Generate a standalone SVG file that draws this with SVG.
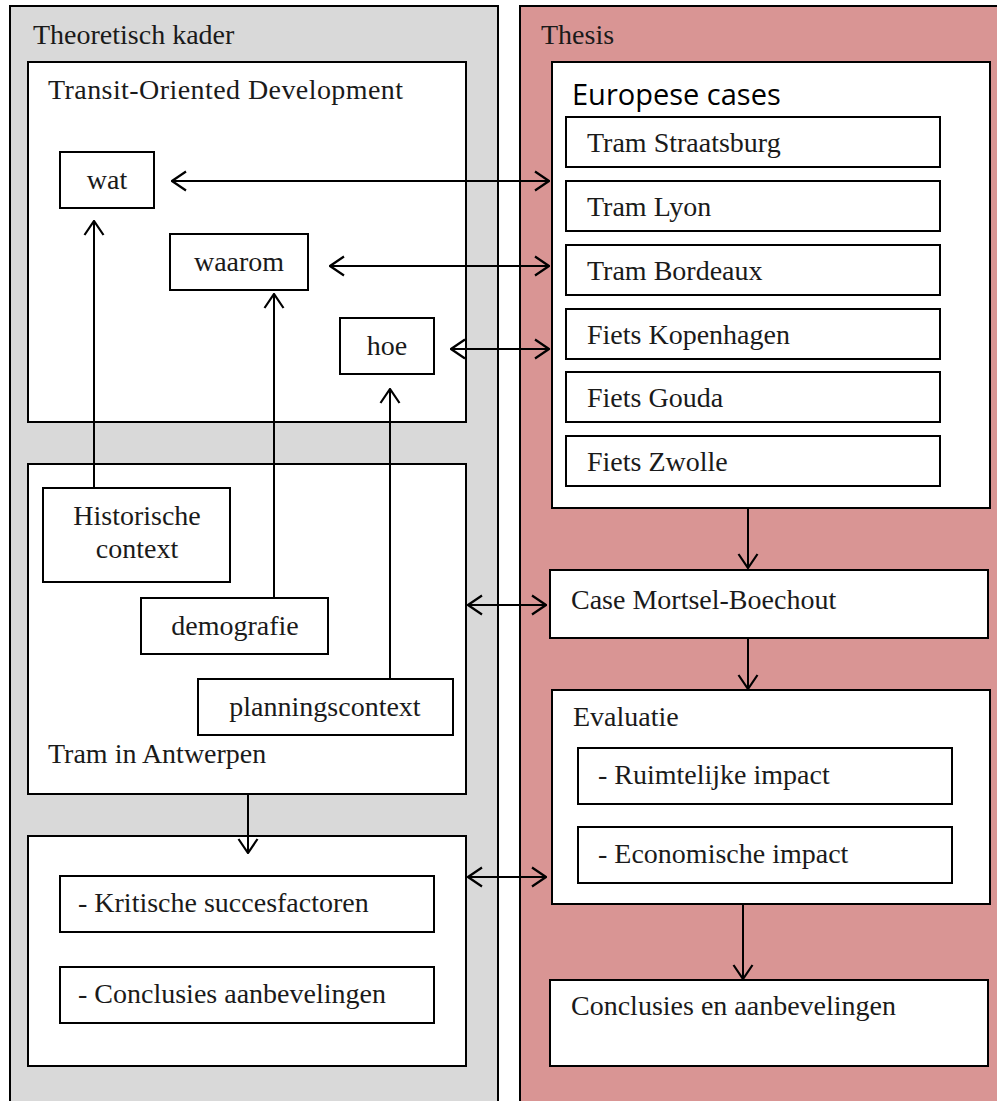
<svg xmlns="http://www.w3.org/2000/svg" width="997" height="1101" viewBox="0 0 997 1101">
  <style>
    .panel-grey { fill: #d9d9d9; stroke: #000; stroke-width: 2; }
    .panel-red { fill: #d99594; stroke: #000; stroke-width: 2; }
    .box { fill: #fff; stroke: #000; stroke-width: 2; }
    .t { font-family: "Liberation Serif", "DejaVu Serif", serif; font-size: 28px; fill: #1a1a1a; }
    .h { font-family: "Open Sans", "Liberation Sans", sans-serif; font-size: 29px; fill: #000; }
    .c { text-anchor: middle; }
    .link { fill: none; stroke: #000; stroke-width: 2; }
  </style>
  <defs>
    <marker id="head" viewBox="0 0 16 22" refX="15" refY="11" markerWidth="16" markerHeight="22" markerUnits="userSpaceOnUse" orient="auto-start-reverse">
      <polyline points="1,1.5 15,11 1,20.5" fill="none" stroke="#000" stroke-width="2.2"/>
    </marker>
  </defs>

  <!-- outer panels -->
  <g id="panel-theory">
    <rect class="panel-grey" x="10" y="6" width="488" height="1110"/>
    <text class="t" x="33" y="44">Theoretisch kader</text>
  </g>
  <g id="panel-thesis">
    <rect class="panel-red" x="520" y="6" width="490" height="1110"/>
    <text class="t" x="541" y="44">Thesis</text>
  </g>

  <!-- Transit-Oriented Development -->
  <g id="tod">
    <rect class="box" x="28" y="62" width="438" height="360"/>
    <text class="t" x="48" y="99" textLength="355">Transit-Oriented Development</text>
  </g>
  <g id="wat">
    <rect class="box" x="60" y="152" width="94" height="56"/>
    <text class="t c" x="107" y="189">wat</text>
  </g>
  <g id="waarom">
    <rect class="box" x="170" y="234" width="138" height="56"/>
    <text class="t c" x="239" y="271">waarom</text>
  </g>
  <g id="hoe">
    <rect class="box" x="340" y="318" width="94" height="56"/>
    <text class="t c" x="387" y="355">hoe</text>
  </g>

  <!-- Tram in Antwerpen -->
  <g id="antwerpen">
    <rect class="box" x="28" y="464" width="438" height="330"/>
    <text class="t" x="48" y="763">Tram in Antwerpen</text>
  </g>
  <g id="historisch">
    <rect class="box" x="43" y="488" width="187" height="94"/>
    <text class="t c" x="137" y="525">Historische</text>
    <text class="t c" x="137" y="558">context</text>
  </g>
  <g id="demografie">
    <rect class="box" x="141" y="598" width="187" height="56"/>
    <text class="t c" x="235" y="635">demografie</text>
  </g>
  <g id="planning">
    <rect class="box" x="198" y="679" width="255" height="56"/>
    <text class="t c" x="325" y="716">planningscontext</text>
  </g>

  <!-- theory conclusions -->
  <g id="succes">
    <rect class="box" x="28" y="836" width="438" height="230"/>
  </g>
  <g id="kritisch">
    <rect class="box" x="60" y="876" width="374" height="56"/>
    <text class="t" x="78" y="912">- Kritische succesfactoren</text>
  </g>
  <g id="aanbeveling-links">
    <rect class="box" x="60" y="967" width="374" height="56"/>
    <text class="t" x="78" y="1003">- Conclusies aanbevelingen</text>
  </g>

  <!-- Europese cases -->
  <g id="europese-cases">
    <rect class="box" x="552" y="62" width="438" height="446"/>
    <text class="h" x="572" y="105">Europese cases</text>
  </g>
  <g id="case-straatsburg">
    <rect class="box" x="566" y="117" width="374" height="50"/>
    <text class="t" x="587" y="152">Tram Straatsburg</text>
  </g>
  <g id="case-lyon">
    <rect class="box" x="566" y="181" width="374" height="50"/>
    <text class="t" x="587" y="216">Tram Lyon</text>
  </g>
  <g id="case-bordeaux">
    <rect class="box" x="566" y="245" width="374" height="50"/>
    <text class="t" x="587" y="280">Tram Bordeaux</text>
  </g>
  <g id="case-kopenhagen">
    <rect class="box" x="566" y="309" width="374" height="50"/>
    <text class="t" x="587" y="344">Fiets Kopenhagen</text>
  </g>
  <g id="case-gouda">
    <rect class="box" x="566" y="372" width="374" height="50"/>
    <text class="t" x="587" y="407">Fiets Gouda</text>
  </g>
  <g id="case-zwolle">
    <rect class="box" x="566" y="436" width="374" height="50"/>
    <text class="t" x="587" y="471">Fiets Zwolle</text>
  </g>

  <!-- thesis flow -->
  <g id="mortsel">
    <rect class="box" x="550" y="570" width="438" height="68"/>
    <text class="t" x="571" y="609">Case Mortsel-Boechout</text>
  </g>
  <g id="evaluatie">
    <rect class="box" x="552" y="690" width="438" height="214"/>
    <text class="t" x="573" y="726">Evaluatie</text>
  </g>
  <g id="ruimtelijk">
    <rect class="box" x="578" y="748" width="374" height="56"/>
    <text class="t" x="598" y="784">- Ruimtelijke impact</text>
  </g>
  <g id="economisch">
    <rect class="box" x="578" y="827" width="374" height="56"/>
    <text class="t" x="598" y="863">- Economische impact</text>
  </g>
  <g id="conclusies">
    <rect class="box" x="550" y="980" width="438" height="86"/>
    <text class="t" x="571" y="1015">Conclusies en aanbevelingen</text>
  </g>

  <!-- connectors -->
  <g id="connectors">
    <line class="link" x1="172" y1="181" x2="549" y2="181" marker-start="url(#head)" marker-end="url(#head)"/>
    <line class="link" x1="330" y1="266" x2="549" y2="266" marker-start="url(#head)" marker-end="url(#head)"/>
    <line class="link" x1="451" y1="349" x2="549" y2="349" marker-start="url(#head)" marker-end="url(#head)"/>
    <line class="link" x1="94" y1="488" x2="94" y2="221" marker-end="url(#head)"/>
    <line class="link" x1="274" y1="598" x2="274" y2="294" marker-end="url(#head)"/>
    <line class="link" x1="390" y1="679" x2="390" y2="389" marker-end="url(#head)"/>
    <line class="link" x1="248" y1="794" x2="248" y2="853" marker-end="url(#head)"/>
    <line class="link" x1="468" y1="605" x2="546" y2="605" marker-start="url(#head)" marker-end="url(#head)"/>
    <line class="link" x1="468" y1="877" x2="546" y2="877" marker-start="url(#head)" marker-end="url(#head)"/>
    <line class="link" x1="748" y1="508" x2="748" y2="568" marker-end="url(#head)"/>
    <line class="link" x1="748" y1="638" x2="748" y2="689" marker-end="url(#head)"/>
    <line class="link" x1="743" y1="904" x2="743" y2="979" marker-end="url(#head)"/>
  </g>
</svg>
